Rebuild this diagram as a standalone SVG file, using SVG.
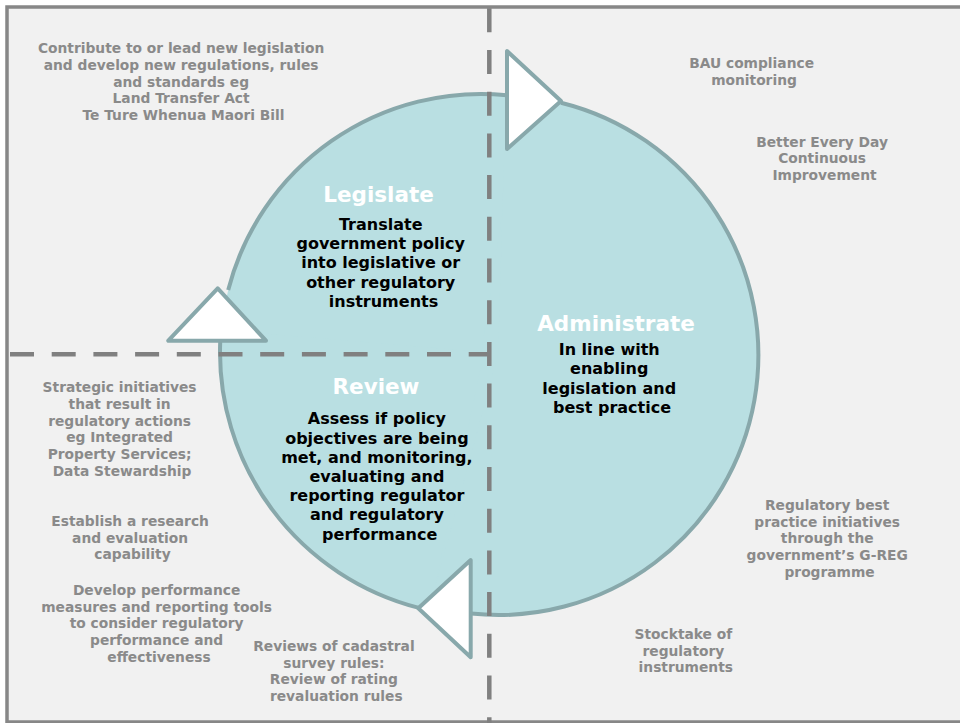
<svg xmlns="http://www.w3.org/2000/svg" width="960" height="723" viewBox="0 0 960 723">
  <defs>
    <style>
      .frame { fill: #F1F1F1; stroke: #878787; stroke-width: 3.5; }
      .divider { fill: none; stroke: #808080; stroke-width: 4.5; stroke-dasharray: 24 17.7; }
      .seg { fill: #B9DFE2; stroke: none; }
      .arc { fill: none; stroke: #88A8AB; stroke-width: 4; }
      .head { fill: #FFFFFF; stroke: #88A8AB; stroke-width: 4; stroke-linejoin: round; }
      text { font-family: "DejaVu Sans", Verdana, sans-serif; font-weight: bold; text-anchor: middle; }
      .note { font-size: 13.8px; fill: #8A8A8A; }
      .title { font-size: 21.5px; fill: #FFFFFF; }
      .body { font-size: 16px; fill: #000000; }
    </style>
  </defs>

  <rect width="960" height="723" fill="#FFFFFF"/>
  <rect class="frame" x="7" y="7" width="1000" height="715"/>

  <g id="cycle-base">
    <circle cx="489" cy="355" r="250" class="seg"/>
  </g>

  <g id="legislate">
    <path class="seg" d="M 481 355 L 220.3 342 A 261 261 0 0 1 520 97.1 Z"/>
    <path class="arc" d="M 228.2 290 A 261 261 0 0 1 507 95.2"/>
  </g>

  <g id="administrate">
    <path class="seg" d="M 498 355 L 506 95.1 A 260 260 0 1 1 430 606 Z"/>
    <path class="arc" d="M 561 102.7 A 260 260 0 0 1 471 613.6"/>
  </g>

  <g id="review">
    <path class="seg" d="M 484 352 L 430 610.4 A 264 264 0 0 1 220.9 330 Z"/>
    <path class="arc" d="M 418 607.6 A 264 264 0 0 1 220.2 342"/>
  </g>

  <g id="quadrant-dividers">
    <line class="divider" x1="489.3" y1="8.3" x2="489.3" y2="723"/>
    <line class="divider" x1="10" y1="354.3" x2="490" y2="354.3"/>
  </g>

  <g id="connectors">
    <polygon class="head" points="507,51 507,149 561,101"/>
    <polygon class="head" points="470.7,560 470.7,657.3 418.3,608.3"/>
    <polygon class="head" points="168.3,340.7 266,340.7 217.7,288.3"/>
  </g>

  <g id="legislate-label">
    <text class="title" x="378.5" y="201.7">Legislate</text>
    <text class="body">
      <tspan x="383.5" y="230">Translate</tspan>
      <tspan x="383.5" y="249.2">government policy</tspan>
      <tspan x="383.5" y="268.4">into legislative or</tspan>
      <tspan x="383.5" y="287.6">other regulatory</tspan>
      <tspan x="383.5" y="306.8">instruments</tspan>
    </text>
  </g>

  <g id="administrate-label">
    <text class="title" x="616" y="330.7">Administrate</text>
    <text class="body">
      <tspan x="612" y="355">In line with</tspan>
      <tspan x="612" y="374.3">enabling</tspan>
      <tspan x="612" y="393.6">legislation and</tspan>
      <tspan x="612" y="412.9">best practice</tspan>
    </text>
  </g>

  <g id="review-label">
    <text class="title" x="376" y="394.3">Review</text>
    <text class="body">
      <tspan x="379.7" y="424.3">Assess if policy</tspan>
      <tspan x="379.7" y="443.5">objectives are being</tspan>
      <tspan x="379.7" y="462.7">met, and monitoring,</tspan>
      <tspan x="379.7" y="481.9">evaluating and</tspan>
      <tspan x="379.7" y="501.1">reporting regulator</tspan>
      <tspan x="379.7" y="520.3">and regulatory</tspan>
      <tspan x="379.7" y="539.5">performance</tspan>
    </text>
  </g>

  <g id="note-legislation">
    <text class="note">
      <tspan x="183.5" y="53.3">Contribute to or lead new legislation</tspan>
      <tspan x="183.5" y="70">and develop new regulations, rules</tspan>
      <tspan x="183.5" y="86.7">and standards eg</tspan>
      <tspan x="183.5" y="103.4">Land Transfer Act</tspan>
      <tspan x="183.5" y="120.1">Te Ture Whenua Maori Bill</tspan>
    </text>
  </g>

  <g id="note-bau">
    <text class="note">
      <tspan x="754" y="68.3">BAU compliance</tspan>
      <tspan x="754" y="85">monitoring</tspan>
    </text>
  </g>

  <g id="note-better-every-day">
    <text class="note">
      <tspan x="824.5" y="146.7">Better Every Day</tspan>
      <tspan x="824.5" y="163.4">Continuous</tspan>
      <tspan x="824.5" y="180.1">Improvement</tspan>
    </text>
  </g>

  <g id="note-strategic">
    <text class="note">
      <tspan x="122" y="392.3">Strategic initiatives</tspan>
      <tspan x="122" y="409">that result in</tspan>
      <tspan x="122" y="425.7">regulatory actions</tspan>
      <tspan x="122" y="442.4">eg  Integrated</tspan>
      <tspan x="122" y="459.1">Property Services;</tspan>
      <tspan x="122" y="475.8">Data Stewardship</tspan>
    </text>
  </g>

  <g id="note-research">
    <text class="note">
      <tspan x="132.5" y="526">Establish a research</tspan>
      <tspan x="132.5" y="542.7">and evaluation</tspan>
      <tspan x="132.5" y="559.4">capability</tspan>
    </text>
  </g>

  <g id="note-performance">
    <text class="note">
      <tspan x="159" y="595">Develop performance</tspan>
      <tspan x="159" y="611.7">measures and reporting tools</tspan>
      <tspan x="159" y="628.4">to consider regulatory</tspan>
      <tspan x="159" y="645.1">performance and</tspan>
      <tspan x="159" y="661.8">effectiveness</tspan>
    </text>
  </g>

  <g id="note-cadastral">
    <text class="note">
      <tspan x="336.3" y="651">Reviews of cadastral</tspan>
      <tspan x="336.3" y="667.7">survey rules:</tspan>
      <tspan x="336.3" y="684.4">Review of rating</tspan>
      <tspan x="336.3" y="701.1">revaluation rules</tspan>
    </text>
  </g>

  <g id="note-g-reg">
    <text class="note">
      <tspan x="829.6" y="510">Regulatory best</tspan>
      <tspan x="829.6" y="526.7">practice initiatives</tspan>
      <tspan x="829.6" y="543.4">through the</tspan>
      <tspan x="829.6" y="560.1">government’s G-REG</tspan>
      <tspan x="829.6" y="576.8">programme</tspan>
    </text>
  </g>

  <g id="note-stocktake">
    <text class="note">
      <tspan x="685.8" y="639">Stocktake of</tspan>
      <tspan x="685.8" y="655.7">regulatory</tspan>
      <tspan x="685.8" y="672.4">instruments</tspan>
    </text>
  </g>
</svg>
